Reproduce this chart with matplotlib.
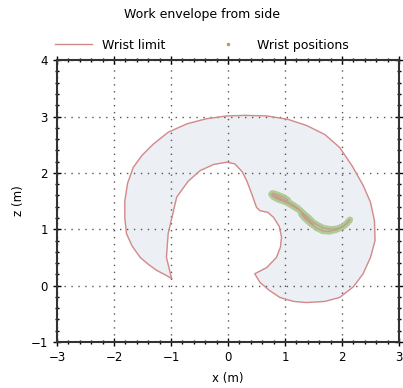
import numpy as np
import matplotlib
matplotlib.use("Agg")
import matplotlib.pyplot as plt
from matplotlib.ticker import MultipleLocator

# envelope outline (x, z) in metres
env_x = [-0.99, -1.08, -1.05, -0.90, -0.70, -0.49, -0.25, -0.02, 0.12, 0.25, 0.33, 0.42, 0.50, 0.56,
         0.70, 0.80, 0.90, 0.94, 0.92, 0.85, 0.68, 0.47,
         0.56, 0.72, 0.91, 1.15, 1.38, 1.70, 1.96, 2.20, 2.37, 2.50, 2.58, 2.57, 2.50, 2.37, 2.18,
         1.96, 1.70, 1.38, 1.05, 0.68, 0.30, -0.02, -0.38, -0.72, -1.05, -1.31, -1.50, -1.66,
         -1.76, -1.81, -1.81, -1.78, -1.68, -1.54, -1.40, -1.25, -1.10, -0.99]
env_z = [0.13, 0.50, 0.92, 1.57, 1.85, 2.04, 2.15, 2.19, 2.16, 2.02, 1.86, 1.62, 1.39, 1.33,
         1.30, 1.21, 1.05, 0.86, 0.68, 0.50, 0.32, 0.21,
         0.06, -0.08, -0.21, -0.28, -0.30, -0.28, -0.21, -0.02, 0.21, 0.50, 0.80, 1.15, 1.48, 1.78, 2.12,
         2.45, 2.68, 2.84, 2.95, 3.01, 3.02, 3.01, 2.96, 2.87, 2.72, 2.51, 2.32, 2.10,
         1.82, 1.50, 1.20, 0.92, 0.70, 0.50, 0.38, 0.27, 0.19, 0.13]

# wrist trajectory samples
wrist_x = [0.78, 0.85, 0.95, 1.05, 1.00, 0.90, 0.80, 0.76, 0.82, 0.95, 1.10, 1.22, 1.30,
           1.36, 1.42, 1.50, 1.45, 1.35, 1.28, 1.34, 1.45, 1.56, 1.66, 1.78, 1.90, 2.00,
           2.08, 2.14, 2.10, 2.02, 1.92, 1.80, 1.68, 1.58, 1.50, 1.42, 1.35, 1.25, 1.12,
           1.00, 0.88, 0.80]
wrist_z = [1.64, 1.62, 1.58, 1.52, 1.49, 1.52, 1.57, 1.62, 1.60, 1.54, 1.46, 1.38, 1.30,
           1.22, 1.15, 1.08, 1.12, 1.22, 1.28, 1.20, 1.10, 1.02, 0.97, 0.96, 0.99, 1.04,
           1.10, 1.17, 1.12, 1.05, 1.01, 1.00, 1.02, 1.07, 1.12, 1.20, 1.26, 1.34, 1.42,
           1.49, 1.55, 1.60]

plt.rcParams['font.family'] = ['DejaVu Sans']
fig = plt.figure(figsize=(4.03, 3.88), dpi=100)
ax = fig.add_axes([0.1414, 0.1186, 0.8486, 0.7264])

ax.fill(env_x, env_z, color='#eceff4', zorder=1)
ax.plot(env_x, env_z, color='#d48a8a', lw=1.0, zorder=2, label='Wrist limit')

ax.plot(wrist_x, wrist_z, color='#a8c98c', lw=4.5, alpha=0.9, zorder=3, solid_capstyle='round')
ax.plot(wrist_x, wrist_z, color='#c79a8c', lw=0.8, zorder=4)
ax.plot([], [], ls='none', marker='.', ms=3, color='#b59a70', label='Wrist positions')

ax.set_xlim(-3, 3)
ax.set_ylim(-1, 4)
ax.xaxis.set_major_locator(MultipleLocator(1))
ax.yaxis.set_major_locator(MultipleLocator(1))
ax.xaxis.set_minor_locator(MultipleLocator(0.2))
ax.yaxis.set_minor_locator(MultipleLocator(0.2))
ax.tick_params(which='both', direction='inout', top=True, right=True, labelsize=8.5, width=1)
ax.tick_params(which='major', length=6)
ax.tick_params(which='minor', length=3)
ax.grid(True, which='major', color='#555555', ls=(0, (1, 4)), lw=1)
for s in ax.spines.values():
    s.set_linewidth(1.5)
    s.set_color('#333333')

ax.set_xlabel('x (m)', fontsize=8.5, labelpad=6)
ax.set_ylabel('z (m)', fontsize=8.5, labelpad=4)
fig.text(0.5, 0.962, 'Work envelope from side', fontsize=9, ha='center', va='center')
fig.legend(*ax.get_legend_handles_labels(), loc='center', bbox_to_anchor=(0.5, 0.884), ncol=2,
           frameon=False, fontsize=9, handlelength=3.0, columnspacing=3.5)

fig.savefig('out.png', dpi=100)
